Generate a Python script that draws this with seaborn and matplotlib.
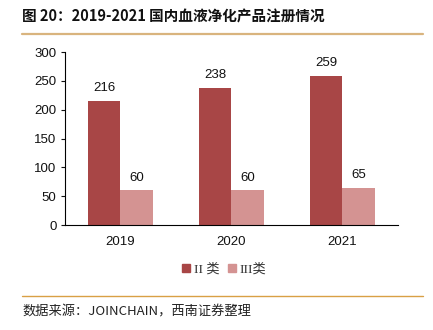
import matplotlib
matplotlib.use("Agg")
import matplotlib.pyplot as plt
import seaborn as sns
import pandas as pd
from matplotlib.lines import Line2D

years = ["2019", "2020", "2021"]
class2 = [216, 238, 259]
class3 = [60, 60, 65]
series_names = ["II 类", "III类"]
colors = ["#A84646", "#D49392"]
yticks = [0, 50, 100, 150, 200, 250, 300]

df = pd.DataFrame({
    "year": years * 2,
    "value": class2 + class3,
    "type": [series_names[0]] * 3 + [series_names[1]] * 3,
})

sns.set_theme(style="white")
plt.rcParams["font.family"] = ["Liberation Sans", "Noto Sans CJK SC", "DejaVu Sans"]

fig = plt.figure(figsize=(4.33, 3.30), dpi=100)
ax = fig.add_axes([0.150, 0.318, 0.769, 0.524])

sns.barplot(data=df, x="year", y="value", hue="type", palette=colors,
            width=0.58, saturation=1, ax=ax, legend=False, edgecolor="none")

for cont in ax.containers:
    ax.bar_label(cont, padding=5, fontsize=9.5, color="#111111")

ax.set_ylim(0, 300)
ax.set_yticks(yticks)
ax.set_xlabel("")
ax.set_ylabel("")
ax.tick_params(axis="y", labelsize=9.5, length=3, width=0.8, left=True, colors="#111111", pad=3)
ax.tick_params(axis="x", labelsize=9.5, length=0, pad=8, colors="#111111")
for s in ["top", "right"]:
    ax.spines[s].set_visible(False)
for s in ["left", "bottom"]:
    ax.spines[s].set_color("#000000")
    ax.spines[s].set_linewidth(0.8)

handles = [Line2D([], [], marker="s", linestyle="none", markersize=5.5,
                  markerfacecolor=c, markeredgecolor=c) for c in colors]
leg = fig.legend(handles, series_names, loc="center", bbox_to_anchor=(0.515, 0.183),
                 ncol=2, frameon=False, handletextpad=0.05, columnspacing=0.5,
                 handlelength=1.0,
                 prop={"family": ["Liberation Serif", "Noto Sans CJK SC"], "size": 9.5})
for t in leg.get_texts():
    t.set_color("#333333")

fig.text(0.051, 0.951, "图 20：2019-2021 国内血液净化产品注册情况", fontsize=10.5,
         fontweight="bold", family=["Noto Sans CJK SC", "DejaVu Sans"],
         ha="left", va="center", color="#111111")
fig.add_artist(Line2D([0.051, 0.977], [0.897, 0.897], transform=fig.transFigure,
                      color="#D9B47E", linewidth=1.6))
fig.add_artist(Line2D([0.051, 0.977], [0.103, 0.103], transform=fig.transFigure,
                      color="#D9A045", linewidth=1.0))
fig.text(0.051, 0.055, "数据来源：JOINCHAIN，西南证券整理", fontsize=9.5, style="italic",
         family=["Noto Sans CJK SC", "DejaVu Sans"], ha="left", va="center", color="#222222")

fig.savefig("out.png", dpi=100)
